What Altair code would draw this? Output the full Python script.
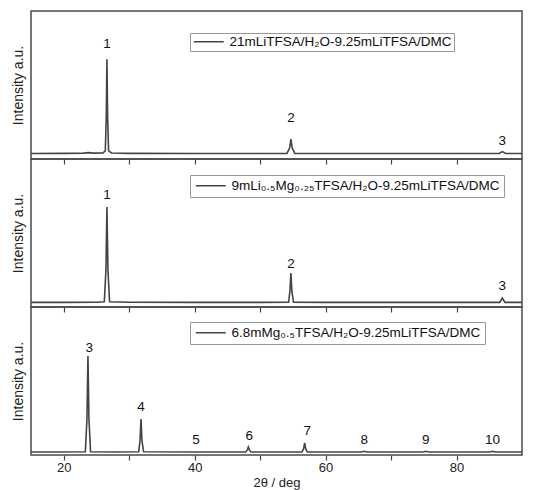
import altair as alt
import pandas as pd

# ---------------- data ----------------
x_ticks = [20, 30, 40, 50, 60, 70, 80]

s1_name = "21mLiTFSA/H₂O-9.25mLiTFSA/DMC"
s1_x = [15, 20, 23.0, 23.8, 24.5, 26.0, 26.35, 26.5, 26.6, 26.7, 26.85, 27.3, 30, 40, 50,
        54.1, 54.5, 54.7, 54.9, 55.3, 60, 70, 80, 86.5, 87.0, 87.5, 90]
s1_y = [0.3, 0.4, 0.6, 1.2, 0.6, 0.8, 3, 40, 100, 40, 3, 0.8, 0.4, 0.3, 0.3,
        0.4, 6, 15.5, 6, 0.4, 0.3, 0.3, 0.3, 0.3, 2.2, 0.3, 0.3]
s1_lab = ["1", "2", "3"]
s1_lab_x = [26.6, 54.7, 87.0]
s1_lab_y = [116, 37.7, 13.5]

s2_name = "9mLi₀.₅Mg₀.₂₅TFSA/H₂O-9.25mLiTFSA/DMC"
s2_x = [15, 20, 25, 26.2, 26.45, 26.6, 26.75, 27.0, 30, 40, 50,
        54.35, 54.55, 54.7, 54.85, 55.1, 60, 70, 80, 86.6, 87.0, 87.4, 90]
s2_y = [0.3, 0.3, 0.4, 1.0, 35, 100, 35, 1.0, 0.4, 0.3, 0.3,
        0.4, 12, 31, 12, 0.4, 0.3, 0.3, 0.3, 0.3, 4.9, 0.3, 0.3]
s2_lab = ["1", "2", "3"]
s2_lab_x = [26.6, 54.7, 87.0]
s2_lab_y = [113, 40.7, 17.4]

s3_name = "6.8mMg₀.₅TFSA/H₂O-9.25mLiTFSA/DMC"
s3_x = [15, 20, 23.3, 23.55, 23.7, 23.85, 24.1, 28, 31.45, 31.65, 31.8, 31.95, 32.2,
        40, 47.8, 48.05, 48.2, 48.35, 48.6, 56.4, 56.65, 56.8, 56.95, 57.2,
        65.5, 65.9, 66.3, 74.9, 75.3, 75.7, 85.1, 85.5, 85.9, 90]
s3_y = [0.3, 0.3, 0.5, 35, 100, 35, 0.5, 0.3, 0.5, 12, 34.6, 12, 0.5,
        0.3, 0.3, 2.5, 5.5, 2.5, 0.3, 0.3, 4, 9.7, 4, 0.3,
        0.3, 1.0, 0.3, 0.3, 1.0, 0.3, 0.3, 1.0, 0.3, 0.3]
s3_lab = ["3", "4", "5", "6", "7", "8", "9", "10"]
s3_lab_x = [23.9, 31.8, 40.2, 48.35, 57.2, 65.9, 75.3, 85.5]
s3_lab_y = [108, 46.7, 12.5, 16.6, 21.8, 12.5, 12.5, 12.5]

FONT = "Liberation Sans"
LINE = "#444444"


def panel(name, xs, ys, lx, ly, lt, ydom, leg_y, leg_pad, bottom):
    df = pd.DataFrame({"x": xs, "y": ys, "series": name})
    lab = pd.DataFrame({"x": lx, "y": ly, "t": lt})
    ax_kw = dict(values=x_ticks, domain=False, grid=False, tickColor="#444",
                 tickSize=5, tickWidth=1.2, labelFontSize=13, labelColor="#222",
                 labelPadding=1, labelExpr="datum.value % 20 == 0 ? datum.label : ''")
    if bottom:
        ax_kw.update(title="2θ / deg", titleFontSize=13, titleFontWeight="normal",
                     titleColor="#222", titlePadding=2)
    else:
        ax_kw.update(labels=False, title=None)
    xenc = alt.X("x:Q", scale=alt.Scale(domain=[15, 90], nice=False, zero=False),
                 axis=alt.Axis(**ax_kw))
    yenc = alt.Y("y:Q", scale=alt.Scale(domain=ydom, nice=False, zero=False),
                 axis=alt.Axis(title="Intensity a.u.", labels=False, ticks=False,
                               domain=False, grid=False, titleFontSize=14,
                               titleFontWeight="normal", titleColor="#222",
                               titlePadding=6))
    line = alt.Chart(df).mark_line(strokeWidth=1.6, clip=True, color=LINE).encode(
        x=xenc, y=yenc,
        color=alt.Color("series:N", scale=alt.Scale(range=[LINE]),
                        legend=alt.Legend(orient="none", legendX=159, legendY=leg_y,
                                          title=None, symbolType="M-1,0H5",
                                          symbolSize=100, symbolStrokeWidth=1.5,
                                          labelFontSize=13.5, labelLimit=500,
                                          labelColor="#111", labelOffset=24,
                                          padding=leg_pad, strokeColor="#999",
                                          fillColor="white")))
    txt = alt.Chart(lab).mark_text(fontSize=13.5, font=FONT, color="#111",
                                   baseline="middle").encode(
        x=alt.X("x:Q"), y=alt.Y("y:Q"), text="t:N")
    return alt.layer(line, txt).properties(width=491, height=148)


p1 = panel(s1_name, s1_x, s1_y, s1_lab_x, s1_lab_y, s1_lab, [-5.6, 151.2], 22, 2, False)
p2 = panel(s2_name, s2_x, s2_y, s2_lab_x, s2_lab_y, s2_lab, [-4.5, 150.2], 16, 4, False)
p3 = panel(s3_name, s3_x, s3_y, s3_lab_x, s3_lab_y, s3_lab, [-2.8, 150.9], 15, 4, True)

chart = alt.vconcat(p1, p2, p3, spacing=0, bounds="flush").resolve_scale(
    color="independent", y="independent"
).resolve_axis(x="independent", y="independent").resolve_legend(
    color="independent"
).properties(
    padding={"left": 2, "top": 2, "right": 0, "bottom": 0}
).configure(font=FONT).configure_view(stroke="#4a4a4a", strokeWidth=1.5)

chart.save("out.html", embed_options={"renderer": "svg", "actions": False})
